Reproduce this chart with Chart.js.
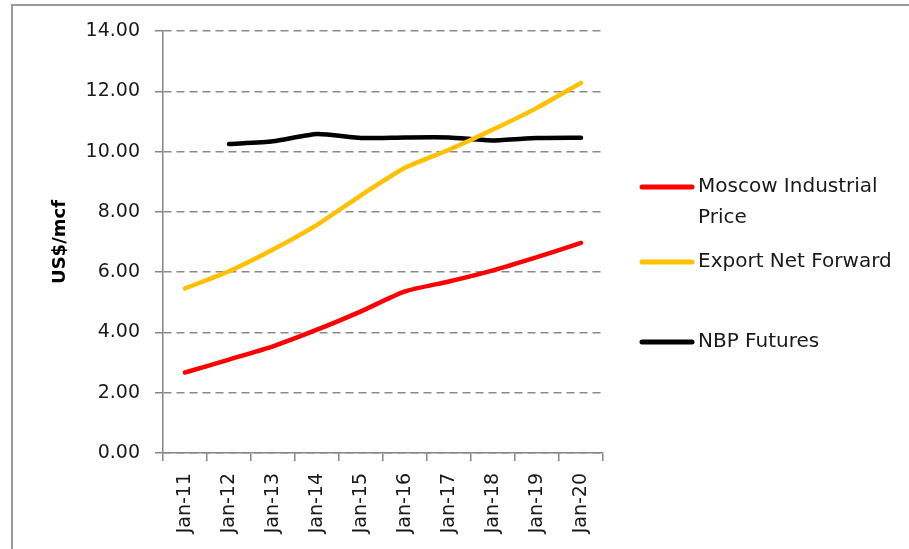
<!DOCTYPE html>
<html>
<head>
<meta charset="utf-8">
<script src="https://cdn.jsdelivr.net/npm/chart.js@4/dist/chart.umd.min.js"></script>
<style>
  html, body { margin: 0; padding: 0; background: #ffffff; overflow: hidden; width: 909px; height: 549px; }
  #frame { position: absolute; left: 11px; top: 4px; width: 1000px; height: 1000px; border: 2px solid #9a9a9a; box-sizing: border-box; }
  #wrap { position: absolute; left: 0; top: 0; width: 909px; height: 549px; }
</style>
</head>
<body>
<div id="frame"></div>
<div id="wrap"><canvas id="c" width="909" height="549"></canvas></div>
<script>
// ---- data ----
const categories = ['Jan-11','Jan-12','Jan-13','Jan-14','Jan-15','Jan-16','Jan-17','Jan-18','Jan-19','Jan-20'];
const seriesNames = ['Moscow Industrial Price', 'Export Net Forward', 'NBP Futures'];
const moscowIndustrial = [2.67, 3.10, 3.54, 4.09, 4.70, 5.36, 5.69, 6.06, 6.50, 6.97];
const exportNetForward = [5.46, 6.03, 6.75, 7.57, 8.55, 9.46, 10.06, 10.73, 11.45, 12.28];
const nbpFutures = [null, 10.25, 10.34, 10.58, 10.45, 10.47, 10.47, 10.37, 10.45, 10.46];
const yTicks = [0, 2, 4, 6, 8, 10, 12, 14];
const yTitle = 'US$/mcf';

const seriesColors = ['#ff0000', '#ffc000', '#000000'];
const seriesValues = [moscowIndustrial, exportNetForward, nbpFutures];

const FONT = 'DejaVu Sans';

const legendPlugin = {
  id: 'sideLegend',
  afterDraw(chart, args, opts) {
    const ctx = chart.ctx;
    ctx.save();
    ctx.font = opts.fontSize + 'px "' + FONT + '"';
    ctx.textBaseline = 'middle';
    ctx.textAlign = 'left';
    chart.data.datasets.forEach((ds, i) => {
      const y = opts.rows[i];
      ctx.strokeStyle = ds.borderColor;
      ctx.lineWidth = opts.markerWidth;
      ctx.lineCap = 'round';
      ctx.beginPath();
      ctx.moveTo(opts.markerX0, y);
      ctx.lineTo(opts.markerX1, y);
      ctx.stroke();
      // word-wrap label
      const words = ds.label.split(' ');
      const lines = [];
      let cur = '';
      words.forEach(w => {
        const test = cur ? cur + ' ' + w : w;
        if (cur && ctx.measureText(test).width > opts.maxTextWidth) { lines.push(cur); cur = w; }
        else cur = test;
      });
      if (cur) lines.push(cur);
      ctx.fillStyle = opts.color;
      lines.forEach((ln, k) => ctx.fillText(ln, opts.textX, y + k * opts.lineHeight));
    });
    ctx.restore();
  }
};

const datasets = seriesNames.map((name, i) => ({
  label: name,
  data: seriesValues[i],
  borderColor: seriesColors[i],
  backgroundColor: seriesColors[i],
  borderWidth: 4.5,
  borderCapStyle: 'round',
  borderJoinStyle: 'round',
  pointRadius: 0,
  pointHoverRadius: 0,
  tension: 0.2,
  fill: false,
  spanGaps: false
}));

new Chart(document.getElementById('c'), {
  type: 'line',
  data: { labels: categories, datasets: datasets },
  plugins: [legendPlugin],
  options: {
    responsive: false,
    animation: false,
    layout: { padding: { left: 0, top: 31, right: 306, bottom: 0 } },
    plugins: {
      legend: { display: false },
      tooltip: { enabled: false },
      sideLegend: {
        rows: [187, 262, 342],
        markerX0: 642, markerX1: 692, markerWidth: 5,
        textX: 698, lineHeight: 31, fontSize: 20,
        maxTextWidth: 205, color: '#1a1a1a'
      }
    },
    scales: {
      x: {
        type: 'category',
        offset: true,
        grid: { display: true, drawOnChartArea: false, drawTicks: true, tickLength: 8, color: '#868686', offset: true, lineWidth: 1.5 },
        border: { display: true, color: '#868686', width: 1.5 },
        ticks: { minRotation: 90, maxRotation: 90, autoSkip: false, padding: 12, color: '#1a1a1a', font: { family: FONT, size: 19 } },
        afterFit(scale) { scale.height = 96; }
      },
      y: {
        min: yTicks[0],
        max: yTicks[yTicks.length - 1],
        afterBuildTicks(scale) { scale.ticks = yTicks.map(v => ({ value: v })); },
        grid: { color: '#8a8a8a', lineWidth: 1.5, drawTicks: true, tickLength: 8, tickColor: '#868686', tickBorderDash: [] },
        border: { display: true, color: '#868686', width: 1.5, dash: [8, 5] },
        ticks: { padding: 15, color: '#1a1a1a', font: { family: FONT, size: 19 }, callback: v => Number(v).toFixed(2) },
        title: { display: true, text: yTitle, color: '#000000', font: { family: FONT, size: 18, weight: 'bold' }, padding: { top: 50, bottom: 0 } },
        afterFit(scale) { scale.width = 163; }
      }
    }
  }
});
</script>
</body>
</html>
